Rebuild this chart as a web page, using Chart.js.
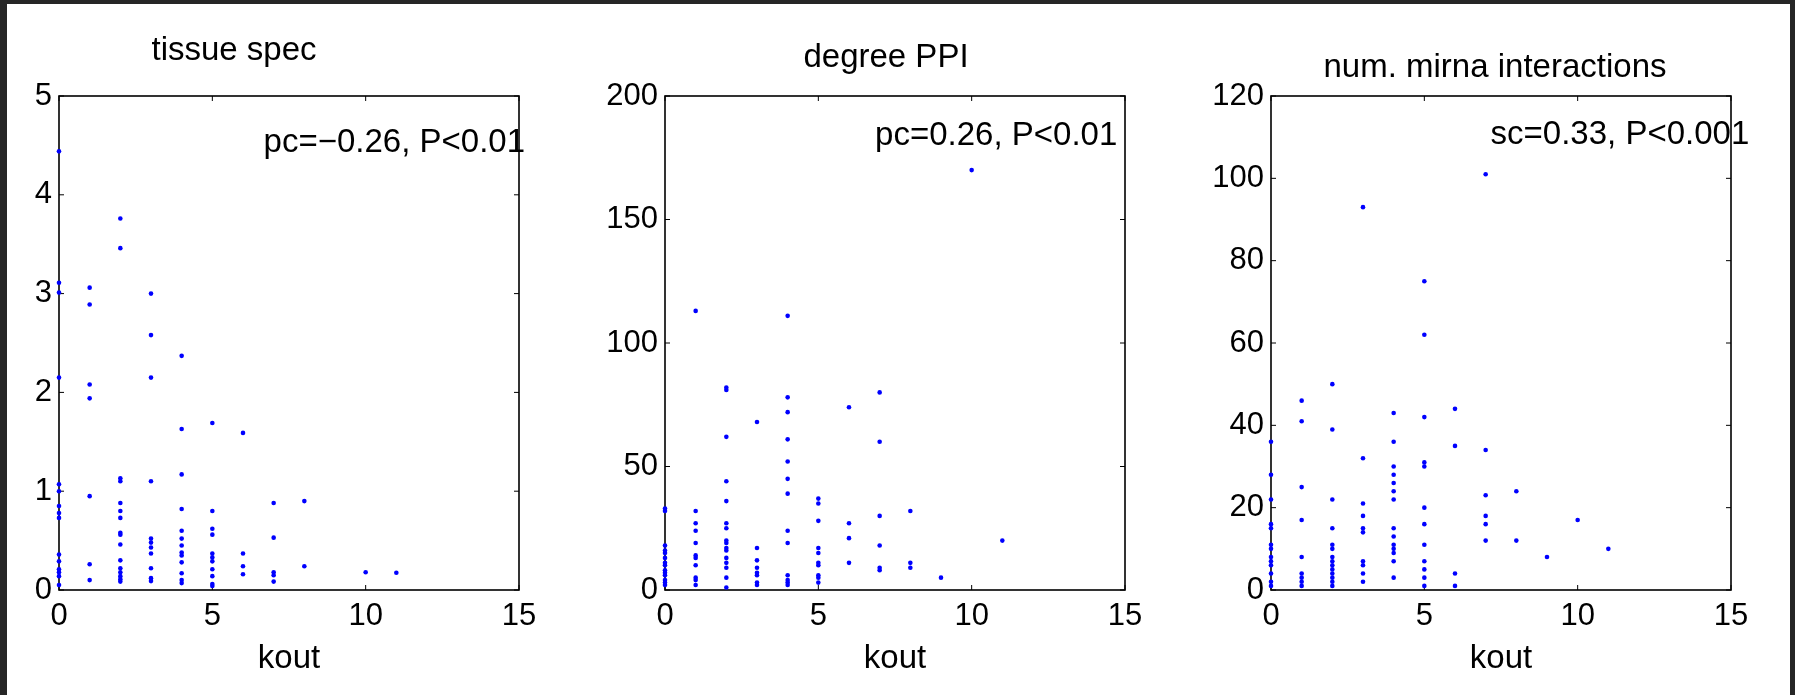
<!DOCTYPE html>
<html>
<head>
<meta charset="utf-8">
<script src="https://cdn.jsdelivr.net/npm/chart.js@4.4.0/dist/chart.umd.min.js"></script>
<style>
  html, body { margin: 0; padding: 0; background: #262626; overflow: hidden; }
  body { width: 1795px; height: 695px; position: relative; }
  #sheet { position: absolute; left: 7px; top: 4px; width: 1783px; height: 691px; background: #fff; }
  canvas { position: absolute; top: 0; }
</style>
</head>
<body>
<div id="sheet"></div>
<canvas id="c0" width="605" height="695" style="left:0px"></canvas>
<canvas id="c1" width="605" height="695" style="left:606px"></canvas>
<canvas id="c2" width="605" height="695" style="left:1212px"></canvas>
<script>
"use strict";

// values per kout (index = kout)
const tissueSpec = [
  [4.44, 3.11, 3.01, 2.15, 1.07, 1.0, 0.85, 0.78, 0.73, 0.36, 0.29, 0.21, 0.18, 0.14, 0.05],
  [3.06, 2.89, 2.08, 1.94, 0.95, 0.26, 0.1],
  [3.76, 3.46, 1.13, 1.1, 0.88, 0.8, 0.73, 0.58, 0.56, 0.46, 0.3, 0.22, 0.18, 0.14, 0.11, 0.085],
  [3.0, 2.58, 2.15, 1.1, 0.52, 0.48, 0.43, 0.37, 0.22, 0.12, 0.09],
  [2.37, 1.63, 1.17, 0.82, 0.6, 0.52, 0.45, 0.38, 0.35, 0.28, 0.17, 0.1, 0.07],
  [1.69, 0.8, 0.62, 0.56, 0.37, 0.33, 0.29, 0.21, 0.14, 0.06, 0.04],
  [1.59, 0.37, 0.24, 0.16],
  [0.88, 0.53, 0.18, 0.15, 0.085],
  [0.9, 0.24],
  [],
  [0.18],
  [0.175],
];

const degreePPI = [
  [33, 32, 18, 16, 15, 13, 11, 10, 8, 7, 6, 4, 3, 2],
  [113, 32, 27, 24, 19, 14, 13, 10, 5, 4, 2],
  [82, 81, 62, 44, 36, 27, 25, 20, 19, 17, 16, 13, 11, 9, 5, 1],
  [68, 17, 12, 9, 7, 6, 3, 2],
  [111, 78, 72, 61, 52, 45, 39, 24, 19, 6, 4, 3, 2],
  [37, 35, 28, 17, 15, 11, 10, 6, 5, 3],
  [74, 27, 21, 11],
  [80, 60, 30, 18, 9, 8],
  [32, 11, 9],
  [5],
  [170],
  [20],
];

const mirnaInteractions = [
  [36, 28, 22, 16, 15, 11, 10, 8, 7, 6, 4, 2, 1],
  [46, 41, 25, 17, 8, 4, 3, 2, 1],
  [50, 39, 22, 15, 11, 10, 8, 7, 6, 5, 4, 3, 2, 1],
  [93, 32, 21, 18, 15, 14, 7, 6, 4, 2],
  [43, 36, 30, 28, 26, 24, 22, 15, 13, 11, 10, 9, 7, 3],
  [75, 62, 42, 31, 30, 20, 16, 11, 7, 5, 3, 1],
  [44, 35, 4, 1],
  [101, 34, 23, 18, 16, 12],
  [24, 12],
  [8],
  [17],
  [10],
];

const xTicks = [0, 5, 10, 15];
const tissueTicks = [0, 1, 2, 3, 4, 5];
const degreeTicks = [0, 50, 100, 150, 200];
const mirnaTicks = [0, 20, 40, 60, 80, 100, 120];

const titles = ["tissue spec", "degree PPI", "num. mirna interactions"];
const notes = ["pc=\u22120.26, P<0.01", "pc=0.26, P<0.01", "sc=0.33, P<0.001"];

const FONT = "'Liberation Sans', Arial, Helvetica, sans-serif";
const TICK_LEN = 5;

// MATLAB-ish box with inward ticks on all four sides, plus title and stat note
const matlabAxes = {
  id: "matlabAxes",
  beforeDatasetsDraw(chart) {
    const { ctx, chartArea: a, scales } = chart;
    ctx.save();
    ctx.strokeStyle = "#000";
    ctx.lineWidth = 1.6;
    ctx.strokeRect(a.left, a.top, a.right - a.left, a.bottom - a.top);
    ctx.beginPath();
    for (const t of scales.x.ticks) {
      const px = scales.x.getPixelForValue(t.value);
      ctx.moveTo(px, a.bottom); ctx.lineTo(px, a.bottom - TICK_LEN);
      ctx.moveTo(px, a.top); ctx.lineTo(px, a.top + TICK_LEN);
    }
    for (const t of scales.y.ticks) {
      const py = scales.y.getPixelForValue(t.value);
      ctx.moveTo(a.left, py); ctx.lineTo(a.left + TICK_LEN, py);
      ctx.moveTo(a.right, py); ctx.lineTo(a.right - TICK_LEN, py);
    }
    ctx.lineWidth = 1;
    ctx.stroke();
    ctx.restore();
  },
  afterDraw(chart, _args, opts) {
    const { ctx, scales } = chart;
    ctx.save();
    ctx.fillStyle = "#000";
    ctx.font = `33px ${FONT}`;
    ctx.textBaseline = "alphabetic";
    ctx.textAlign = "center";
    ctx.fillText(opts.title, opts.titleX, opts.titleY);
    ctx.textAlign = "left";
    ctx.fillText(opts.note, scales.x.getPixelForValue(opts.noteAt[0]), scales.y.getPixelForValue(opts.noteAt[1]));
    ctx.restore();
  },
};

function makePanel(id, values, yTicks, opts) {
  const points = values.flatMap((vals, k) => vals.map((v) => ({ x: k, y: v })));
  const tickFont = { family: FONT, size: 31 };
  return new Chart(document.getElementById(id), {
    type: "scatter",
    data: {
      datasets: [{
        data: points,
        backgroundColor: "#0000ff",
        borderWidth: 0,
        pointRadius: 2.3,
        pointHoverRadius: 2.3,
        clip: false,
      }],
    },
    options: {
      responsive: false,
      animation: false,
      devicePixelRatio: 1,
      layout: { padding: { top: 96, right: 86, left: 0, bottom: 0 } },
      plugins: { legend: { display: false }, tooltip: { enabled: false }, matlabAxes: opts },
      scales: {
        x: {
          type: "linear",
          min: xTicks[0],
          max: xTicks[xTicks.length - 1],
          afterBuildTicks: (s) => { s.ticks = xTicks.map((v) => ({ value: v })); },
          afterFit: (s) => { s.height = 105; },
          ticks: { font: tickFont, color: "#000", padding: 8, maxRotation: 0, autoSkip: false },
          grid: { display: false, drawTicks: false },
          border: { display: false },
          title: { display: true, text: "kout", color: "#000", font: { family: FONT, size: 33 }, padding: { top: 0, bottom: 16 } },
        },
        y: {
          type: "linear",
          min: yTicks[0],
          max: yTicks[yTicks.length - 1],
          afterBuildTicks: (s) => { s.ticks = yTicks.map((v) => ({ value: v })); },
          afterFit: (s) => { s.width = 59; },
          ticks: { font: tickFont, color: "#000", padding: 7, autoSkip: false },
          grid: { display: false, drawTicks: false },
          border: { display: false },
        },
      },
    },
    plugins: [matlabAxes],
  });
}

makePanel("c0", tissueSpec, tissueTicks, { title: titles[0], titleX: 234, titleY: 60, note: notes[0], noteAt: [6.67, 4.43] });
makePanel("c1", degreePPI, degreeTicks, { title: titles[1], titleX: 280, titleY: 67, note: notes[1], noteAt: [6.85, 180] });
makePanel("c2", mirnaInteractions, mirnaTicks, { title: titles[2], titleX: 283, titleY: 77, note: notes[2], noteAt: [7.16, 108.3] });
</script>
</body>
</html>
